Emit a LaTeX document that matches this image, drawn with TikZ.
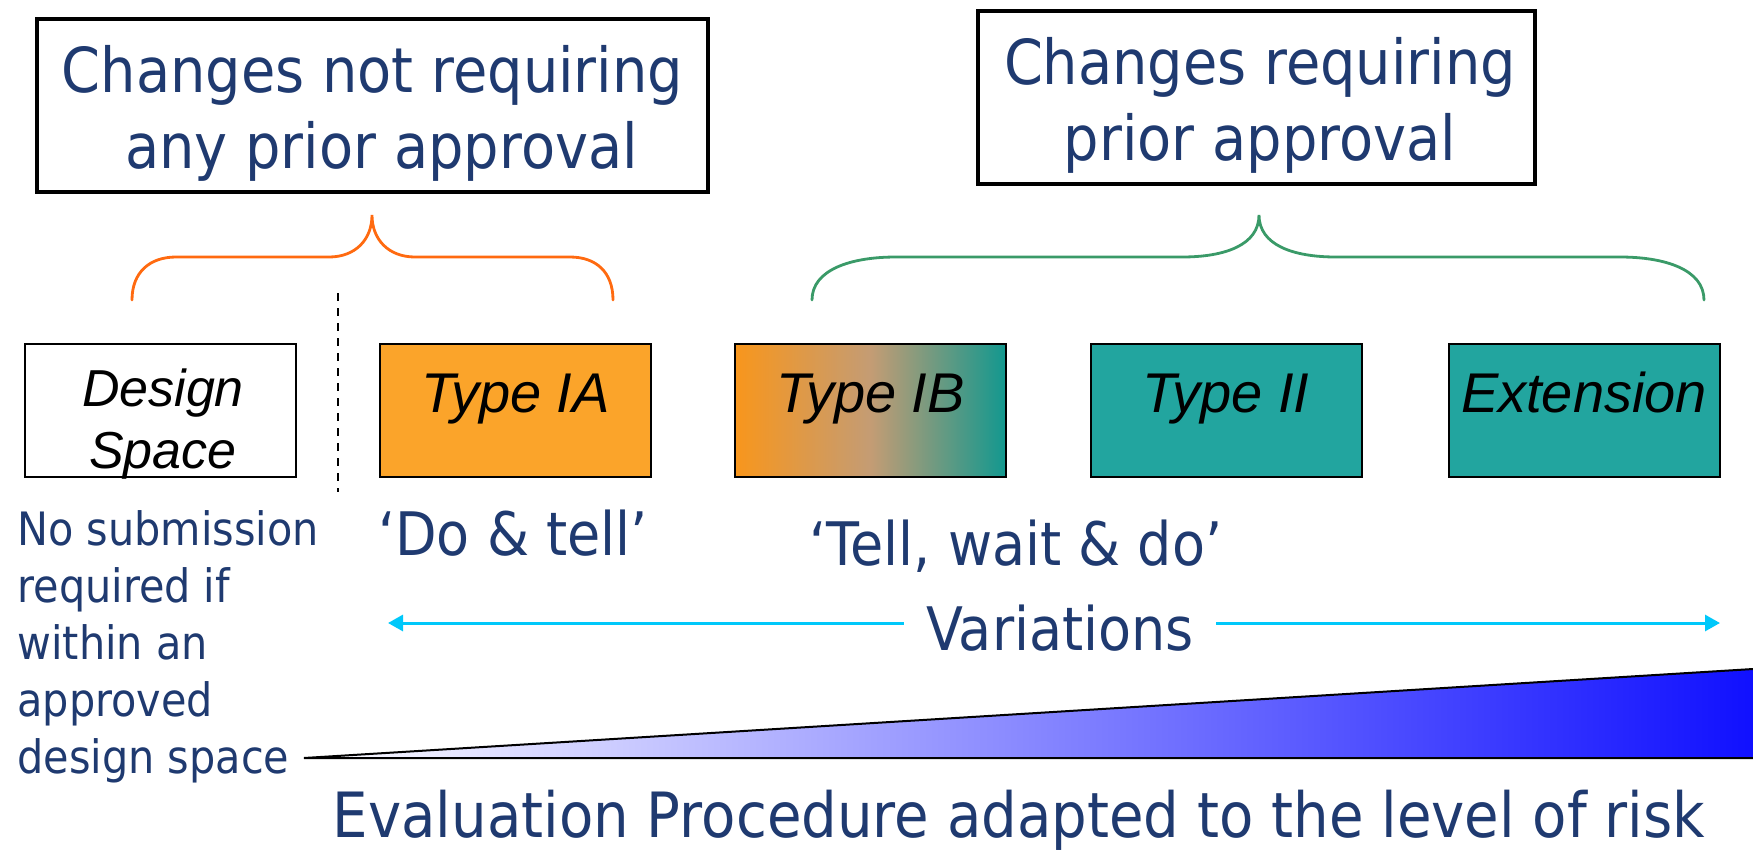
\documentclass[tikz,border=0pt]{standalone}
\usepackage{fontspec}
\usetikzlibrary{arrows.meta,calc}
\setmainfont{Liberation Sans}
\newfontfamily\tah[FakeStretch=0.9]{DejaVu Sans}
\definecolor{navy}{HTML}{1F3A70}
\definecolor{obr}{HTML}{FF6A10}
\definecolor{gbr}{HTML}{3A9A68}
\definecolor{cyanarr}{HTML}{00C8FA}
\definecolor{iafill}{HTML}{FBA42A}
\definecolor{ibleft}{HTML}{F8961C}
\definecolor{ibmid}{HTML}{C49C74}
\definecolor{ibright}{HTML}{12988F}
\definecolor{tealfill}{HTML}{22A59F}
\definecolor{riskblue}{HTML}{1010FF}
\pgfdeclarehorizontalshading{ibshade}{100bp}{color(0bp)=(ibleft); color(25bp)=(ibleft); color(50bp)=(ibmid); color(75bp)=(ibright); color(100bp)=(ibright)}
\tikzset{
  titlebox/.style={draw=black, line width=1.8pt, fill=white, minimum height=86.5pt, inner sep=0pt},
  titletext/.style={text=navy, inner sep=0pt, align=center, anchor=north, font=\tah\fontsize{31}{38}\selectfont},
  typebox/.style={draw=black, line width=1pt, minimum width=135.5pt, inner sep=0pt,
    text height=34pt, text depth=32.5pt, font=\itshape\fontsize{28}{32}\selectfont},
  bluetext/.style={text=navy, inner sep=0pt},
  brace/.style={line width=1.4pt, line cap=round},
  varrow/.style={draw=cyanarr, line width=1.5pt, -{Triangle[length=7.5pt,width=8pt]}},
}
\begin{document}
\begin{tikzpicture}[x=0.5pt,y=-0.5pt]
\useasboundingbox (0,0) rectangle (1753,853);

% title boxes
\node[titlebox, minimum width=335.5pt] (nopa) at (372.5,105.5) {};
\node[titletext] (nopat) at (372.5,45) {Changes not requiring\\\hspace*{9pt}any prior approval};
\node[titlebox, minimum width=278.5pt] (pa) at (1256.5,97.5) {};
\node[titletext] (pat) at (1260,37) {Changes requiring\\prior approval};

% braces
\draw[brace, obr] (132,300) .. controls (132,272) and (150,257) .. (176,257) -- (329,257)
  .. controls (355,257) and (372,240) .. (372,215)
  .. controls (372,240) and (389,257) .. (415,257) -- (570,257)
  .. controls (596,257) and (613,272) .. (613,300);
\draw[brace, gbr] (812,300) .. controls (812,270) and (850,257) .. (896,257) -- (1182,257)
  .. controls (1225,257) and (1259,245) .. (1259,215)
  .. controls (1259,245) and (1293,257) .. (1336,257) -- (1620,257)
  .. controls (1666,257) and (1704,270) .. (1704,300);

% dashed separator
\coordinate (dtop) at (338,293);
\coordinate (dbot) at (338,492);
\draw[black, line width=0.6pt, dash pattern=on 4pt off 3.5pt] (dtop) -- (dbot);

% boxes
\node[draw=black, line width=0.8pt, fill=white, minimum width=135.5pt, minimum height=66.5pt] (ds) at (160.5,410.5) {};
\node[inner sep=0pt, anchor=north, align=center, font=\itshape\fontsize{26}{31}\selectfont] (dst) at (163,368) {Design\\Space};
\node[typebox, fill=iafill] (ia) at (515.5,410.5) {Type IA};
\node[typebox, shading=ibshade] (ib) at (870.5,410.5) {Type IB};
\node[typebox, fill=tealfill] (t2) at (1226,410.5) {Type II};
\node[typebox, fill=tealfill] (ext) at (1584,410.5) {Extension};

% texts under boxes
\node[bluetext, anchor=north west, align=left, font=\tah\fontsize{23}{28.5}\selectfont] (nosub) at (17,510)
  {No submission\\required if\\within an\\approved\\design space};
\node[bluetext, anchor=base, font=\tah\fontsize{30}{34}\selectfont] (dotell) at (513,555) {‘Do \& tell’};
\node[bluetext, anchor=base, font=\tah\fontsize{30}{34}\selectfont] (tellwait) at (1016,565) {‘Tell, wait \& do’};

% variations arrow
\coordinate (vl) at (388,623);
\coordinate (vr) at (1720,623);
\node[bluetext, anchor=base, inner xsep=11pt, font=\tah\fontsize{30}{34}\selectfont] (var) at (1060,650) {Variations};
\draw[varrow] (var.west |- vl) -- (vl);
\draw[varrow] (var.east |- vr) -- (vr);

% risk wedge
\coordinate (wl) at (304,758);
\coordinate (wtr) at (1753,669);
\coordinate (wbr) at (1753,758);
\shade[left color=white, right color=riskblue] (wl) -- (wtr) -- (wbr) -- cycle;
\draw[black, line width=1pt] (wtr) -- (wl) -- (wbr);

\node[bluetext, anchor=base, font=\tah\fontsize{31.2}{35}\selectfont] (eval) at (1019,837) {Evaluation Procedure adapted to the level of risk};
\end{tikzpicture}
\end{document}
